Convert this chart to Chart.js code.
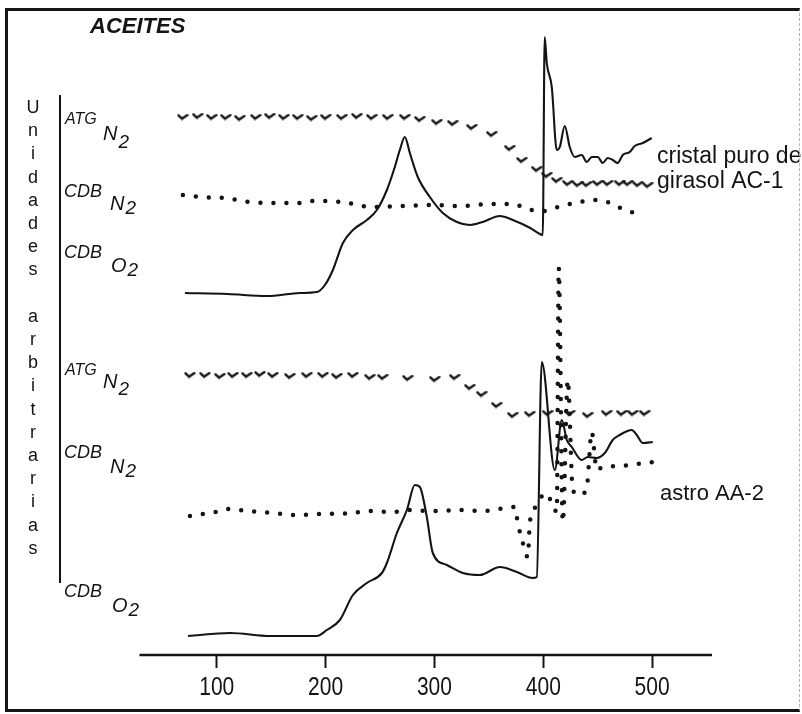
<!DOCTYPE html>
<html>
<head>
<meta charset="utf-8">
<title>ACEITES</title>
<script src="https://cdn.jsdelivr.net/npm/chart.js@4.4.1/dist/chart.umd.min.js"></script>
<style>
  html, body { margin: 0; padding: 0; background: #fff; }
  #wrap { position: relative; width: 802px; height: 714px; }
  #frame {
    position: absolute; left: 5px; top: 8px; width: 795px; height: 704px;
    box-sizing: border-box; pointer-events: none;
    border-left: 3px solid #151515; border-top: 3px solid #151515;
    border-bottom: 3px solid #151515; border-right: 1px dashed #b5b5b5;
  }
</style>
</head>
<body>
<div id="wrap">
  <canvas id="myChart" width="802" height="714"></canvas>
  <div id="frame"></div>
</div>
<script>
// x values (temperature) and y values (arbitrary units, stacked traces)
const xTicks = [100, 200, 300, 400, 500];

// top sample: cristal puro de girasol AC-1
const topAtgX = [68.9, 82.6, 95.5, 108.4, 121.2, 136.0, 148.8, 161.7, 174.5, 187.3, 200.2, 215.0, 228.8, 242.5, 257.2, 272.8, 286.6, 302.2, 316.9, 334.3, 352.7, 369.2, 380.3, 394.0, 403.2, 412.4, 422.5, 431.7, 439.9, 450.0, 459.2, 470.2, 477.6, 486.8, 496.0];
const topAtgY = [538, 539, 538, 538, 537, 538, 539, 538, 538, 537, 538, 538, 539, 538, 538, 538, 536, 533, 532, 528, 521, 507, 495, 486, 480, 475, 472, 471, 471, 472, 472, 472, 472, 471, 470];

const topN2X = [68.9, 84.6, 107, 130.5, 153, 176.4, 188.4, 215.0, 242.5, 271.0, 297.6, 323.3, 352.7, 371.1, 389.4, 401.3, 410.6, 428.9, 449.1, 459.2, 474.8, 493.2];
const topN2Y = [460, 458, 457, 453, 452, 452, 454, 453, 448, 449, 450, 449, 451, 451, 445, 444, 447, 452, 455, 453, 445, 440];

const topO2X = [70.8, 110, 146, 176.4, 192.0, 199.4, 206.7, 215.9, 225.1, 237.9, 247.1, 256.3, 263.6, 268.2, 272.8, 277.4, 284.7, 295.8, 307.7, 320.6, 332.5, 344.4, 360.1, 372.0, 388.0, 397.0, 399.5, 401.3, 403.2, 407.8, 412.4, 415.2, 419.7, 424.3, 428.9, 435.3, 439.9, 444.5, 450.0, 454.6, 459.2, 463.8, 468.4, 473.0, 479.4, 484.0, 491.4, 499.6];
const topO2Y = [362, 361, 359, 362, 363, 370, 385, 412, 425, 435, 445, 465, 488, 505, 518, 502, 478, 458, 442, 433, 430, 433, 439, 435, 427, 421, 420, 618, 592, 568, 505, 508, 529, 508, 498, 500, 493, 498, 498, 492, 497, 495, 492, 500, 503, 509, 512, 517];

// bottom sample: astro AA-2
const botAtgX = [75.4, 89.2, 102.9, 114.9, 127.7, 139.7, 151.6, 167.2, 182.8, 197.6, 210.4, 225.1, 240.7, 252.6, 275.6, 300.4, 318.7, 332.5, 343.5, 357.3, 372.0, 387.6, 404.1, 424.3, 440.9, 458.3, 472.1, 482.2, 493.2];
const botAtgY = [280, 280, 279, 280, 280, 281, 280, 279, 280, 280, 279, 280, 278, 278, 277, 276, 278, 268, 261, 250, 240, 241, 242, 242, 240, 242, 242, 242, 242];

const botN2X = [75.4, 98.5, 109.5, 127.7, 150.7, 173.6, 196.7, 225.1, 237.9, 261.8, 275.6, 298.5, 326.1, 344.4, 364.6, 373.8, 376.6, 381.2, 385.8, 387.6, 392.2, 396.7, 401.3, 407.8, 412.4, 414.2, 417.9, 422.5, 427.1, 433.5, 439.9, 444.5, 449.1, 454.6, 470.2, 485.9, 500.6];
const botN2Y = [139, 143, 146, 144, 142, 140, 141, 142, 144, 143, 145, 144, 145, 144, 147, 148, 132, 112, 98, 132, 147, 155, 162, 153, 143, 387, 133, 275, 165, 160, 167, 223, 185, 188, 189, 191, 193];

const botO2X = [73.6, 112.3, 149, 192, 201.2, 213.1, 225.1, 237.9, 251.7, 256.3, 265.5, 274.7, 282.0, 286.6, 293.0, 298.5, 311.4, 326.1, 341.7, 360.1, 375.7, 390.4, 394.0, 398.6, 410.6, 417.0, 421.6, 426.2, 435.3, 440.9, 449.1, 456.5, 463.8, 470.2, 481.3, 485.9, 491.4, 500.6];
const botO2Y = [19, 22, 19, 19, 25, 35, 60, 72, 82, 92, 122, 145, 170, 168, 138, 102, 90, 82, 80, 88, 83, 77, 78, 293, 185, 235, 215, 208, 195, 198, 197, 202, 215, 220, 225, 220, 212, 213];

const ink = '#141414';
const sans = '"Liberation Sans", Arial, sans-serif';

function pts(xs, ys) {
    return xs.map((x, i) => ({ x: x, y: ys[i] }));
}

// little "v" mark used for the ATG traces
const chevron = document.createElement('canvas');
chevron.width = 12;
chevron.height = 7;
(function() {
    const c = chevron.getContext('2d');
    c.strokeStyle = ink;
    c.lineWidth = 2.4;
    c.lineCap = 'round';
    c.lineJoin = 'round';
    c.beginPath();
    c.moveTo(1.5, 1.8);
    c.lineTo(5, 5.2);
    c.lineTo(10.5, 1.5);
    c.stroke();
})();

function solid(data) {
    return { data: data, borderColor: ink, borderWidth: 2.1, pointRadius: 0,
             cubicInterpolationMode: 'monotone' };
}
function dotted(data) {
    return { data: data, borderColor: ink, borderWidth: 4.5, borderDash: [0, 13],
             borderCapStyle: 'round', pointRadius: 0, cubicInterpolationMode: 'monotone' };
}
function marks(data) {
    return { data: data, showLine: false, pointStyle: chevron, pointRadius: 5,
             borderColor: ink, backgroundColor: ink };
}

const deco = {
    id: 'deco',
    afterDraw(chart) {
        const ctx = chart.ctx;
        const area = chart.chartArea;
        const x = chart.scales.x;
        const y = chart.scales.y;
        ctx.save();
        ctx.strokeStyle = ink;
        ctx.fillStyle = ink;

        // baseline of the x axis
        ctx.lineWidth = 2.5;
        ctx.beginPath();
        ctx.moveTo(x.getPixelForValue(29), y.getPixelForValue(0));
        ctx.lineTo(x.getPixelForValue(555), y.getPixelForValue(0));
        ctx.stroke();

        // tick labels, a little condensed like the printed digits
        ctx.font = '25px ' + sans;
        ctx.textAlign = 'center';
        ctx.textBaseline = 'alphabetic';
        x.ticks.forEach(t => {
            ctx.save();
            ctx.translate(x.getPixelForValue(t.value), 695);
            ctx.scale(0.84, 1);
            ctx.fillText(String(t.value), 0, 0);
            ctx.restore();
        });

        // bracket on the left
        ctx.lineWidth = 2;
        ctx.beginPath();
        ctx.moveTo(area.left, y.getPixelForValue(560));
        ctx.lineTo(area.left, y.getPixelForValue(72));
        ctx.stroke();

        // title
        ctx.font = 'italic bold 22px ' + sans;
        ctx.textAlign = 'left';
        ctx.fillText('ACEITES', 90, 33);

        // vertical axis caption, one letter per line
        ctx.font = '18px ' + sans;
        ctx.textAlign = 'center';
        ctx.textBaseline = 'middle';
        const cap = 'Unidades arbitrarias';
        for (let i = 0; i < cap.length; i++) {
            ctx.fillText(cap[i], 33, 108 + i * 23.2);
        }

        // trace labels
        ctx.textAlign = 'left';
        ctx.textBaseline = 'alphabetic';
        const labels = [
            ['ATG', 65, 124, 16, 'N', 103, 140, 148],
            ['CDB', 64, 197, 18, 'N', 110, 210, 214],
            ['CDB', 64, 258, 18, 'O', 111, 272, 276],
            ['ATG', 65, 375, 16, 'N', 103, 388, 395],
            ['CDB', 64, 458, 18, 'N', 110, 473, 477],
            ['CDB', 64, 597, 18, 'O', 112, 612, 616]
        ];
        labels.forEach(l => {
            ctx.font = 'italic ' + l[3] + 'px ' + sans;
            ctx.fillText(l[0], l[1], l[2]);
            ctx.font = 'italic 20px ' + sans;
            ctx.fillText(l[4], l[5], l[6]);
            const w = ctx.measureText(l[4]).width;
            ctx.font = 'italic 19px ' + sans;
            ctx.fillText('2', l[5] + w + 1, l[7]);
        });

        // sample names
        ctx.font = '23px ' + sans;
        ctx.fillText('cristal puro de', 657, 163);
        ctx.fillText('girasol AC-1', 657, 188);
        ctx.font = '22px ' + sans;
        ctx.fillText('astro AA-2', 660, 500);
        ctx.restore();
    }
};

const config = {
    type: 'line',
    data: {
        datasets: [
            marks(pts(topAtgX, topAtgY)),
            dotted(pts(topN2X, topN2Y)),
            solid(pts(topO2X, topO2Y)),
            marks(pts(botAtgX, botAtgY)),
            dotted(pts(botN2X, botN2Y)),
            solid(pts(botO2X, botO2Y))
        ]
    },
    options: {
        responsive: false,
        animation: false,
        layout: { padding: { left: 60, right: 90, top: 30, bottom: 0 } },
        plugins: {
            legend: { display: false },
            tooltip: { enabled: false }
        },
        scales: {
            x: {
                type: 'linear',
                min: -44,
                max: 555,
                afterBuildTicks: (s) => { s.ticks = xTicks.map(v => ({ value: v })); },
                afterFit: (s) => { s.height = 59; },
                border: { display: false },
                grid: { drawOnChartArea: false, drawTicks: true, tickLength: 13,
                        tickColor: ink, tickWidth: 2 },
                ticks: { display: false }
            },
            y: {
                type: 'linear',
                min: 0,
                max: 625,
                display: false
            }
        }
    },
    plugins: [deco]
};

new Chart(document.getElementById('myChart').getContext('2d'), config);
</script>
</body>
</html>
